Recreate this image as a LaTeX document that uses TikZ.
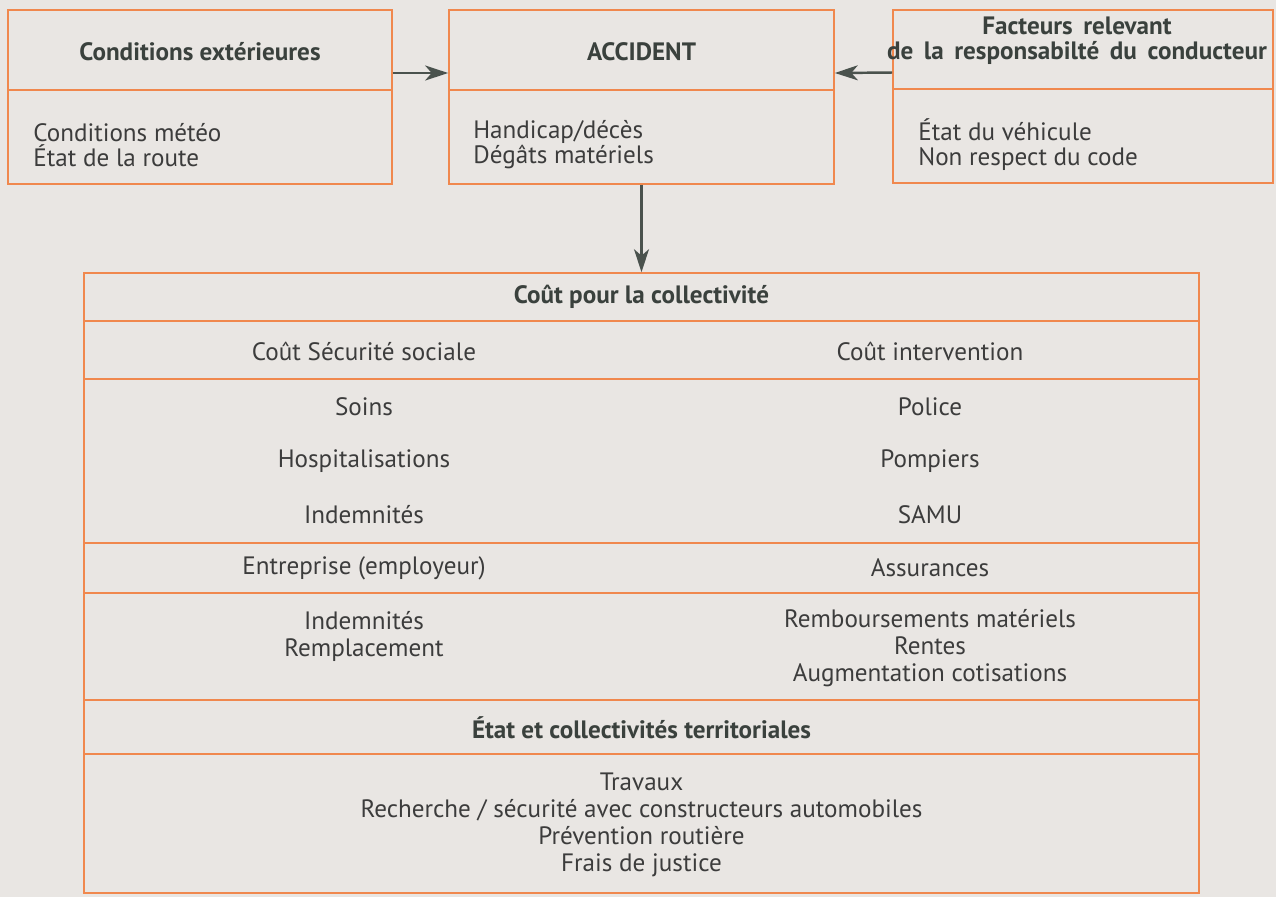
\documentclass[tikz,border=0pt]{standalone}
\usepackage{fontspec}
\setmainfont{PT Sans}
\usepackage{tikz}
\usetikzlibrary{arrows.meta}

\definecolor{paper}{HTML}{E9E6E3}
\definecolor{rulecol}{HTML}{F0884E}
\definecolor{inkgray}{HTML}{3C3C3C}
\definecolor{headgray}{HTML}{3A413D}
\definecolor{arrowgray}{HTML}{4A524D}
\newcommand{\widesp}{\spaceskip=0.42em\relax}

\begin{document}
\begin{tikzpicture}[x=0.02cm,y=-0.02cm,>={Stealth[length=4.6mm,width=3mm,inset=1.3mm]},
        box/.style={draw=rulecol,line width=1pt,inner sep=0pt},
        rule/.style={draw=rulecol,line width=1pt},
        arr/.style={->,draw=arrowgray,fill=arrowgray,line width=1.4pt},
        head/.style={font=\fontsize{14.3}{14.3}\selectfont\bfseries,text=headgray,align=center,inner sep=0pt},
        item/.style={font=\fontsize{14.3}{14.3}\selectfont,text=inkgray,inner sep=0pt},
        lst/.style={font=\fontsize{14.3}{15.4}\selectfont,text=inkgray,align=center,inner sep=0pt}]
        \useasboundingbox[fill=paper] (0,0) rectangle (1276,897);

        % upper row
        \node[box,minimum width=7.68cm,minimum height=3.48cm] (cond) at (200,97) {};
        \node[box,minimum width=7.7cm,minimum height=3.48cm] (acc) at (641.5,97) {};
        \node[box,minimum width=7.6cm,minimum height=3.46cm] (resp) at (1083,96.5) {};
        \draw[rule] (cond.west |- 0,90) -- (cond.east |- 0,90);
        \draw[rule] (acc.west |- 0,90) -- (acc.east |- 0,90);
        \draw[rule] (resp.west |- 0,89) -- (resp.east |- 0,89);

        \node[head] (condT) at (200,52) {Conditions extérieures};
        \node[item,anchor=west,align=left] (condB) at (33,145) {Conditions météo\\État de la route};
        \node[head] (accT) at (641.5,52) {ACCIDENT};
        \node[item,anchor=west,align=left] (accB) at (473,145) {Handicap/décès\\Dégâts matériels};
        \node[head] (respT) at (1077,41) {\widesp Facteurs relevant\\\widesp de la responsabilté du conducteur};
        \node[item,anchor=west,align=left] (respB) at (918,145) {État du véhicule\\Non respect du code};

        % costs
        \node[box,minimum width=22.3cm,minimum height=12.4cm] (cost) at (641.5,583) {};
        \foreach \y in {321,379,543,593,700,754}
            \draw[rule] (cost.west |- 0,\y) -- (cost.east |- 0,\y);

        \node[head] (costT) at (641.5,297) {Coût pour la collectivité};
        \node[item] (secu) at (364,351) {Coût Sécurité sociale};
        \node[item] (interv) at (930,351) {Coût intervention};
        \node[item] (soins) at (364,407) {Soins};
        \node[item] (hosp) at (364,461) {Hospitalisations};
        \node[item] (indem) at (364,515) {Indemnités};
        \node[item] (police) at (930,407) {Police};
        \node[item] (pomp) at (930,461) {Pompiers};
        \node[item] (samu) at (930,515) {SAMU};
        \node[item] (entr) at (364,568) {Entreprise (employeur)};
        \node[item] (assur) at (930,568) {Assurances};
        \node[lst] (remp) at (364,636) {Indemnités\\Remplacement};
        \node[lst] (remb) at (930,648) {Remboursements matériels\\Rentes\\Augmentation cotisations};
        \node[head] (etat) at (641.5,728) {État et collectivités territoriales};
        \node[lst] (trav) at (641.5,825) {Travaux\\Recherche / sécurité avec constructeurs automobiles\\Prévention routière\\Frais de justice};

        \draw[arr] ([yshift=0.48cm]cond.east) -- ([yshift=0.48cm]acc.west);
        \draw[arr] ([yshift=0.48cm]resp.west) -- ([yshift=0.48cm]acc.east);
        \draw[arr] (acc.south) -- (cost.north);
\end{tikzpicture}
\end{document}
